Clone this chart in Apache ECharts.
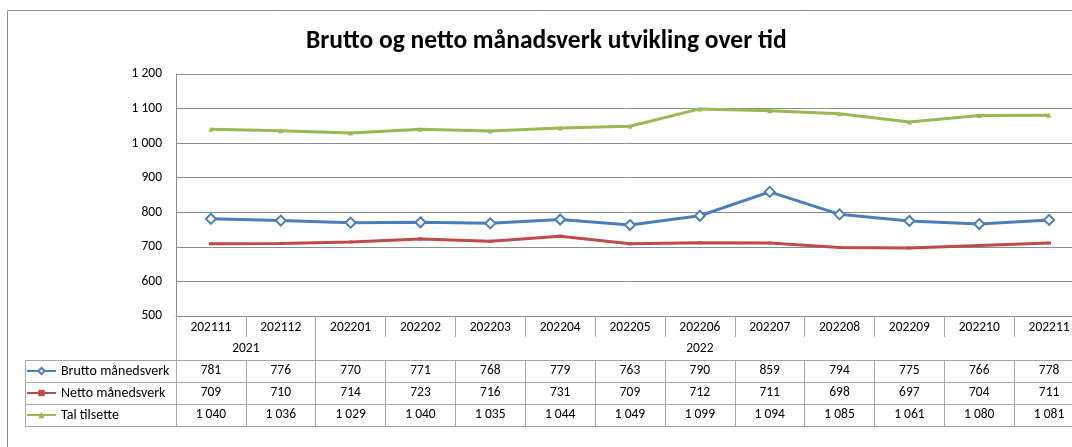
<!DOCTYPE html>
<html>
<head>
<meta charset="utf-8">
<script src="https://cdn.jsdelivr.net/npm/echarts@6/dist/echarts.min.js"></script>
<style>
html,body{margin:0;padding:0;background:#fff;}
#c{width:1072px;height:447px;}
</style>
</head>
<body>
<div id="c"></div>
<script>
// ---- data ----
const categories = ['202111','202112','202201','202202','202203','202204','202205','202206','202207','202208','202209','202210','202211'];
const years = ['2021','2022'];
const brutto = [781,776,770,771,768,779,763,790,859,794,775,766,778];
const netto = [709,710,714,723,716,731,709,712,711,698,697,704,711];
const tal = [1040,1036,1029,1040,1035,1044,1049,1099,1094,1085,1061,1080,1081];
const seriesNames = ['Brutto månedsverk','Netto månedsverk','Tal tilsette'];

// ---- layout ----
const FONT = 'Carlito, Lato, sans-serif';
const GL = 176, GT = 74, GB = 316, W = 1072, H = 447;
const GR = W - 1084;
const lineCol = '#a6a6a6';
const gridCol = '#8c8c8c';
const rowH = 22;
const rowTop = [360, 382, 404];

function fmt(v){ return String(v).replace(/\B(?=(\d{3})+(?!\d))/g, '\u00a0'); }

const chart = echarts.init(document.getElementById('c'), null, {renderer:'canvas'});

function rowAxis(offset, values){
  return {
    type:'category', data:categories, position:'bottom', offset:offset, gridIndex:0,
    boundaryGap:true,
    axisLine:{show:true, lineStyle:{color:lineCol, width:1}},
    axisTick:{show:true, interval:0, length:rowH, inside:false, lineStyle:{color:lineCol}},
    axisLabel:{show: !!values, interval:0, margin:4, fontFamily:FONT, fontSize:13.5, color:'#000',
      formatter:function(v, i){ return values ? fmt(values[i]) : ''; }},
    splitLine:{show:false}
  };
}

function legendRow(i){
  return {
    orient:'horizontal', left:26, top:rowTop[i]+4, padding:0,
    itemWidth:29, itemHeight:8,
    textStyle:{fontFamily:FONT, fontSize:14, color:'#000', lineHeight:14},
    data:[seriesNames[i]]
  };
}

const option = {
  animation:false,
  backgroundColor:'#fff',
  title:{
    text:'Brutto og netto månadsverk utvikling over tid',
    left:301, top:24,
    textStyle:{fontFamily:FONT, fontWeight:'bold', fontSize:25.5, color:'#000'}
  },
  legend:[legendRow(0), legendRow(1), legendRow(2)],
  grid:{left:GL, top:GT, right:GR, bottom:H-GB, containLabel:false, outerBoundsMode:'none'},
  xAxis:[
    {
      type:'category', data:categories, position:'bottom', boundaryGap:true,
      axisLine:{show:true, lineStyle:{color:gridCol}},
      axisTick:{show:true, interval:0, length:21, lineStyle:{color:lineCol}},
      axisLabel:{interval:0, margin:5, fontFamily:FONT, fontSize:13.5, color:'#000'},
      splitLine:{show:false}
    },
    {
      type:'value', min:0, max:categories.length, position:'bottom', offset:21,
      axisLine:{show:false},
      axisTick:{show:true, length:23, customValues:[0,2,categories.length], lineStyle:{color:lineCol}},
      axisLabel:{show:true, margin:5, customValues:[1, 7.5], fontFamily:FONT, fontSize:13.5, color:'#000',
        formatter:function(v){ return v < 2 ? years[0] : years[1]; }},
      splitLine:{show:false}
    },
    rowAxis(rowTop[0]-GB, brutto),
    rowAxis(rowTop[1]-GB, netto),
    rowAxis(rowTop[2]-GB, tal),
    Object.assign(rowAxis(rowTop[2]+rowH-GB, null), {axisTick:{show:false}, axisLabel:{show:false}})
  ],
  yAxis:{
    type:'value', min:500, max:1200, interval:100,
    axisLine:{show:true, lineStyle:{color:gridCol}},
    axisTick:{show:false},
    axisLabel:{margin:14, fontFamily:FONT, fontSize:13.5, color:'#000', formatter:function(v){return fmt(v);}},
    splitLine:{show:true, lineStyle:{color:gridCol, width:1}}
  },
  series:[
    {name:seriesNames[0], type:'line', data:brutto, xAxisIndex:0,
     symbol:'emptyDiamond', symbolSize:10, showAllSymbol:true,
     lineStyle:{color:'#4a7ebb', width:3}, itemStyle:{color:'#4a7ebb', borderWidth:1.5}},
    {name:seriesNames[1], type:'line', data:netto, xAxisIndex:0,
     symbol:'rect', symbolSize:[4,3], showAllSymbol:true,
     lineStyle:{color:'#be4b48', width:3}, itemStyle:{color:'#be4b48'}},
    {name:seriesNames[2], type:'line', data:tal, xAxisIndex:0,
     symbol:'triangle', symbolSize:5, showAllSymbol:true,
     lineStyle:{color:'#98b954', width:3}, itemStyle:{color:'#98b954'}}
  ],
  graphic:[
    {type:'rect', shape:{x:7.5, y:10.5, width:1200, height:600}, style:{fill:null, stroke:'#8c8c8c', lineWidth:1}, silent:true},
    {type:'line', shape:{x1:25.5, y1:rowTop[0]+0.5, x2:GL, y2:rowTop[0]+0.5}, style:{stroke:lineCol, lineWidth:1}},
    {type:'line', shape:{x1:25.5, y1:rowTop[1]+0.5, x2:GL, y2:rowTop[1]+0.5}, style:{stroke:lineCol, lineWidth:1}},
    {type:'line', shape:{x1:25.5, y1:rowTop[2]+0.5, x2:GL, y2:rowTop[2]+0.5}, style:{stroke:lineCol, lineWidth:1}},
    {type:'line', shape:{x1:25.5, y1:rowTop[2]+rowH+0.5, x2:GL, y2:rowTop[2]+rowH+0.5}, style:{stroke:lineCol, lineWidth:1}},
    {type:'line', shape:{x1:25.5, y1:rowTop[0], x2:25.5, y2:rowTop[2]+rowH+1}, style:{stroke:lineCol, lineWidth:1}}
  ]
};
chart.setOption(option);
</script>
</body>
</html>
